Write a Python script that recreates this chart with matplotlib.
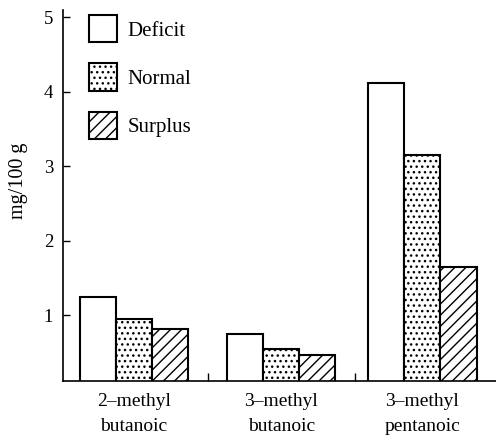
import matplotlib
matplotlib.use("Agg")
import matplotlib.pyplot as plt
import numpy as np

# values (mg/100 g)
categories = ["2\u2013methyl\nbutanoic", "3\u2013methyl\nbutanoic", "3\u2013methyl\npentanoic"]
deficit = [1.25, 0.75, 4.12]
normal = [0.95, 0.55, 3.15]
surplus = [0.82, 0.47, 1.65]

plt.rcParams['font.family'] = ['Liberation Serif', 'DejaVu Serif']
plt.rcParams['hatch.linewidth'] = 1.0

fig = plt.figure(figsize=(4.96, 4.37), dpi=100)
ax = fig.add_axes([63 / 496, 1 - 381 / 437, 1 - 63 / 496, (381 - 10) / 437])

# group centres (the third group sits a little closer in the original)
x = np.array([0, 1, 1.96])
w = 0.245
ax.bar(x - w, deficit, w, color="white", edgecolor="black", linewidth=1.5, label="Deficit")
ax.bar(x, normal, w, color="white", edgecolor="black", linewidth=1.5, hatch="...", label="Normal")
ax.bar(x + w, surplus, w, color="white", edgecolor="black", linewidth=1.5, hatch="///", label="Surplus")

ax.set_xlim(-0.483, 2.46)
ax.set_ylim(0.12, 5.1)
ax.set_yticks([1, 2, 3, 4, 5])
ax.set_xticks(x)
ax.set_xticklabels(categories, fontsize=14, linespacing=1.55)
ax.set_xticks([0.5, 1.5], minor=True)
ax.tick_params(axis="x", which="major", length=0, pad=9)
ax.tick_params(axis="x", which="minor", direction="in", length=6, width=1)
ax.tick_params(axis="y", direction="in", length=5, width=1, labelsize=13.5, pad=7)
for s in ["top", "right"]:
    ax.spines[s].set_visible(False)
ax.spines["left"].set_linewidth(1.2)
ax.spines["bottom"].set_linewidth(1.2)

ax.set_ylabel("mg/100 g", fontsize=14.5)
ax.yaxis.set_label_coords(-0.08, 0.54)

ax.legend(loc="upper left", bbox_to_anchor=(89 / 496, 1 - 15 / 437),
          bbox_transform=fig.transFigure, frameon=False, fontsize=15,
          handlelength=1.35, handleheight=1.65, labelspacing=1.0,
          handletextpad=0.5, borderpad=0, borderaxespad=0)

fig.savefig("out.png", dpi=100)
